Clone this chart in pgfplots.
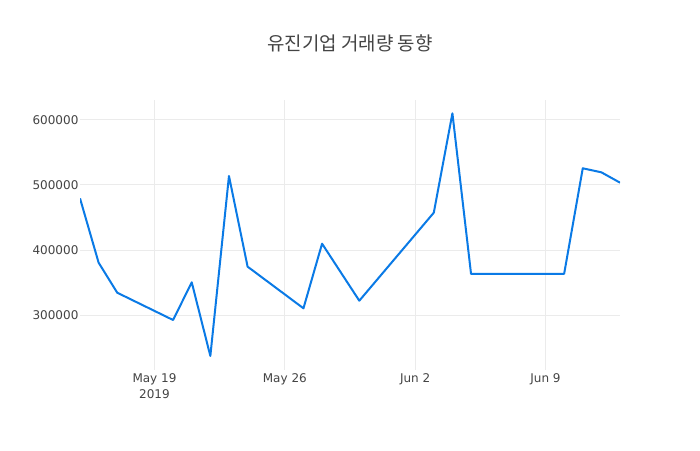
\documentclass[border=0pt]{standalone}
\usepackage{pgfplots}
\pgfplotsset{compat=1.18}
\usepackage{fontspec}
\setmainfont{DejaVu Sans}
\newfontfamily\kr{Noto Sans CJK KR}
\definecolor{txt}{RGB}{68,68,68}
\definecolor{gridc}{RGB}{235,235,235}
\definecolor{line}{RGB}{10,122,230}

\begin{document}
\begin{tikzpicture}
\useasboundingbox[fill=white] (0,0) rectangle (525pt,337.5pt);
\node[txt, font=\kr\fontsize{14.2}{16}\selectfont] at (262.5pt,305pt) {유진기업 거래량 동향};
\begin{axis}[
    at={(60pt,60pt)}, anchor=south west,
    scale only axis,
    width=405pt, height=202.5pt,
    xmin=-4, xmax=25,
    ymin=215400, ymax=630770,
    axis line style={draw=none},
    major tick length=0pt,
    grid=major,
    major grid style={gridc, line width=0.75pt},
    xtick={0,7,14,21},
    xticklabels={{May 19\\2019},{May 26},{Jun 2},{Jun 9}},
    ytick={300000,400000,500000,600000},
    scaled y ticks=false,
    /pgf/number format/assume math mode=true,
    yticklabel={\pgfmathprintnumber[fixed,1000 sep={}]{\tick}},
    ticklabel style={txt, font=\fontsize{9}{12}\selectfont},
    xticklabel style={anchor=north, inner sep=0pt, yshift=-2.5pt, align=center},
    yticklabel style={anchor=east, inner sep=0pt, xshift=-1pt},
]
\addplot[line, line width=1.5pt, line join=round] coordinates {
    (-4,479500) (-3,380500) (-2,334300) (1,292300) (2,350300) (3,237000)
    (4,513850) (5,374400) (8,310300) (9,409700) (11,322000) (15,457400)
    (16,610300) (17,363400) (22,363400) (23,525700) (24,519500) (25,503600)
};
\end{axis}
\end{tikzpicture}
\end{document}
